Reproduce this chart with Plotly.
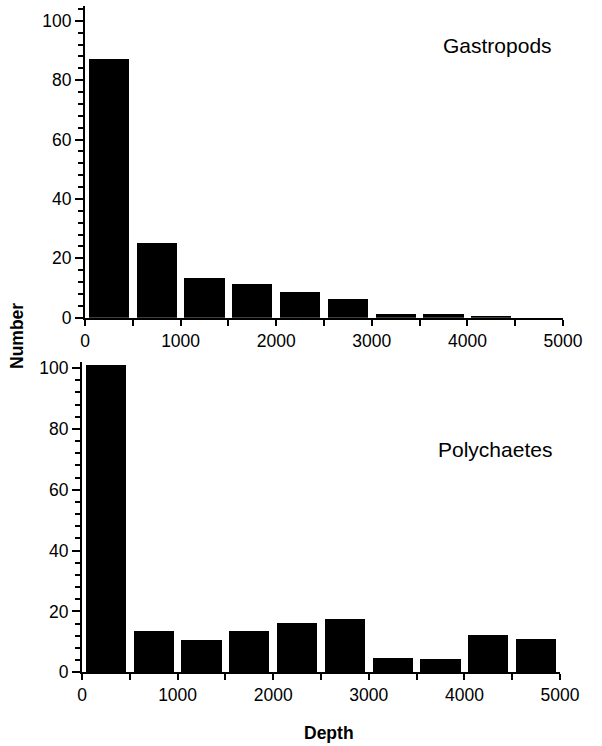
import plotly.graph_objects as go

# Depth bins (m), bin width 500
bin_starts = [0, 500, 1000, 1500, 2000, 2500, 3000, 3500, 4000, 4500]
bin_width = 500
gastropods = [87, 25, 13.4, 11.3, 8.5, 6.2, 1.1, 1.1, 0.3, 0]
polychaetes = [101, 13.6, 10.6, 13.6, 16.3, 17.4, 4.6, 4.4, 12.2, 11]
x_ticks = [0, 1000, 2000, 3000, 4000, 5000]
y_ticks = [0, 20, 40, 60, 80, 100]

centers = [s + bin_width / 2 for s in bin_starts]
W, H = 602, 746
FONT = "Liberation Sans, Arial, Helvetica, sans-serif"

fig = go.Figure()
fig.add_trace(go.Bar(x=centers, y=gastropods, width=420, marker=dict(color="black", line=dict(width=0)),
                     xaxis="x", yaxis="y", showlegend=False))
fig.add_trace(go.Bar(x=centers, y=polychaetes, width=420, marker=dict(color="black", line=dict(width=0)),
                     xaxis="x2", yaxis="y2", showlegend=False))

xcommon = dict(range=[0, 5000], tickvals=x_ticks, ticks="outside", ticklen=6, tickwidth=1.5,
               showline=True, linecolor="black", linewidth=2, showgrid=False, zeroline=False,
               automargin=False,
               tickfont=dict(family=FONT, size=17.5, color="black"),
               minor=dict(dtick=500, ticks="outside", ticklen=6, tickwidth=1.5, tickcolor="black"),
               tickcolor="black")
ycommon = dict(tickvals=y_ticks, ticks="outside", ticklen=8, tickwidth=1.5, tickcolor="black",
               showline=True, linecolor="black", linewidth=2, showgrid=False, zeroline=False,
               automargin=False,
               tickfont=dict(family=FONT, size=17.5, color="black"),
               minor=dict(dtick=4, ticks="outside", ticklen=5, tickwidth=1.5, tickcolor="black"))

def ann(text, x, y, size, angle=0):
    return dict(text=text, x=x / W, y=1 - y / H, xref="paper", yref="paper", showarrow=False,
                xanchor="center", yanchor="middle", textangle=angle,
                font=dict(family=FONT, size=size, color="black"))

fig.update_layout(
    template="none",
    width=W, height=H, margin=dict(l=0, r=0, t=0, b=0, pad=0, autoexpand=False),
    plot_bgcolor="white", paper_bgcolor="white", bargap=0,
    xaxis=dict(domain=[85 / W, 563 / W], anchor="y", **xcommon),
    yaxis=dict(domain=[1 - 317.7 / H, 1 - 6 / H], anchor="x", range=[0, 105], **ycommon),
    xaxis2=dict(domain=[82 / W, 560 / W], anchor="y2", **xcommon),
    yaxis2=dict(domain=[1 - 672.3 / H, 1 - 362 / H], anchor="x2", range=[0, 102], **ycommon),
    annotations=[
        ann("Gastropods", 497, 45, 21),
        ann("Polychaetes", 495, 450, 21),
        ann("<b>Number</b>", 17, 336, 17.5, -90),
        ann("<b>Depth</b>", 329, 733, 17.5),
    ],
)

fig.write_html("out.html")
